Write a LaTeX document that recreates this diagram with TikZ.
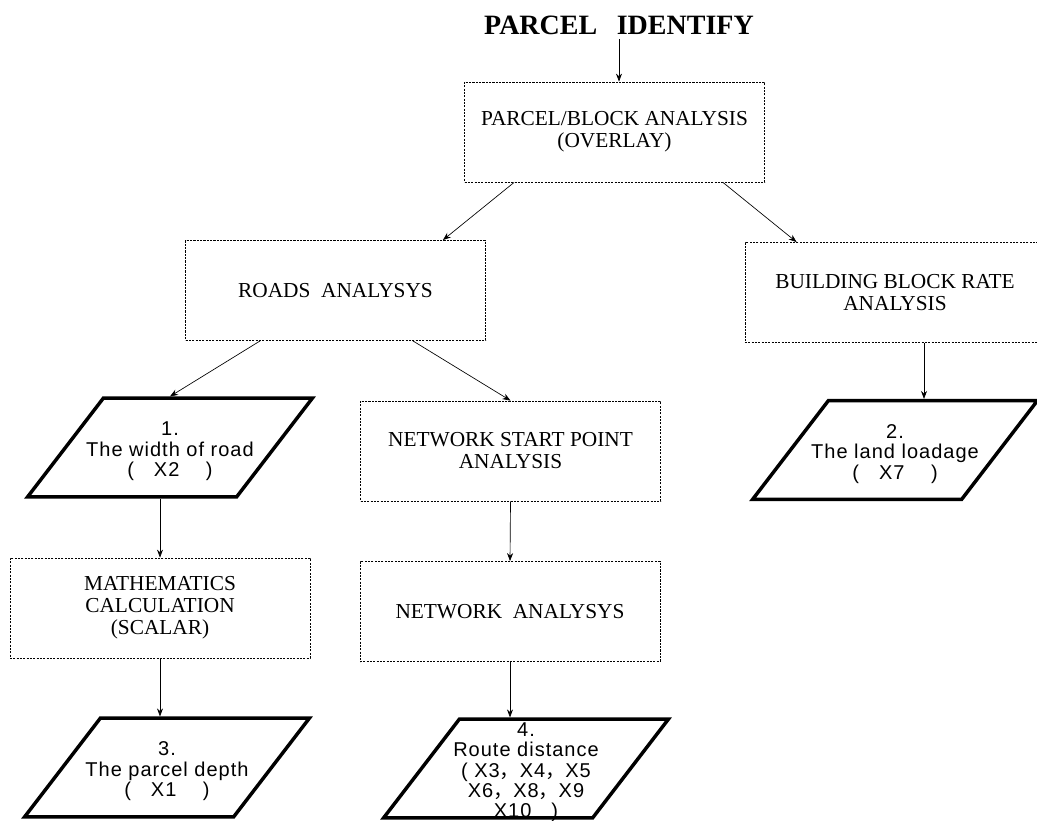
\documentclass[tikz,border=0pt]{standalone}
\usepackage{fontspec}
\setmainfont{Liberation Serif}
\newfontfamily\labelfont{Liberation Sans}[LetterSpace=5]
\newfontfamily\cjk{Noto Sans CJK SC}
\usetikzlibrary{positioning,arrows.meta,shapes.geometric,calc}

\tikzset{
  stepbox/.style={draw,dash pattern=on 1.6pt off 0.9pt,line width=0.6pt,
    minimum width=225pt,minimum height=75pt,inner sep=0pt,align=center,
    font=\fontsize{16}{16.5}\selectfont},
  outbox/.style={draw,line width=2.6pt,trapezium,trapezium left angle=52.5,
    trapezium right angle=127.5,inner xsep=50pt,inner ysep=0pt,
    text height=37pt,text depth=37pt,
    font=\labelfont\fontsize{15}{15}\selectfont},
  flow/.style={-{Stealth[length=6pt,width=4.5pt]},line width=0.5pt}
}
% text of an output box, allowed to run over the slanted sides
\newcommand{\outtext}[1]{\makebox[0pt]{\raisebox{-7pt}{\begin{tabular}{@{}c@{}}#1\end{tabular}}}}
\newcommand{\fwc}{{\cjk ，}}

\begin{document}
\begin{tikzpicture}[x=0.75pt,y=-0.75pt]
  \useasboundingbox (0,0) rectangle (1037,820);
  % heading
  \node[font=\bfseries\fontsize{21}{21}\selectfont] (title) at (619,25) {PARCEL\hspace{.7em}IDENTIFY};
  % analysis steps
  \node[stepbox] (overlay) at (614.5,132) {PARCEL/BLOCK ANALYSIS\\(OVERLAY)};
  \node[stepbox] (roads) at (335.5,290.5) {ROADS\ \ ANALYSYS};
  \node[stepbox] (bldg) at (895,292.5) {BUILDING BLOCK RATE\\ANALYSIS};
  \node[stepbox] (start) at (510.5,451) {NETWORK START POINT\\ANALYSIS};
  \node[stepbox] (net) at (510,611.5) {NETWORK\ \ ANALYSYS};
  \node[stepbox] (math) at (160,608) {MATHEMATICS\\CALCULATION\\(SCALAR)};
  % resulting variables
  \node[outbox] (width) at (170,447.5) {\outtext{1.\\The width of road\\(\quad X2\quad\ )}};
  \node[outbox] (load) at (895,450) {\outtext{2.\\The land loadage\\(\quad X7\quad\ )}};
  \node[outbox] (depth) at (167,767.5) {\outtext{3.\\The parcel depth\\(\quad X1\quad\ )}};
  \node[outbox] (route) at (526,768.5) {\outtext{4.\\Route distance\\( X3\fwc X4\fwc X5\\X6\fwc X8\fwc X9\\X10\quad)}};

  \draw[flow] (title.south) -- (title.south |- overlay.north);
  \draw[flow] ($(overlay.south west)+(50,0)$) -- ($(roads.north east)+(-43,0)$);
  \draw[flow] ($(overlay.south east)+(-42,0)$) -- ($(bldg.north west)+(52,0)$);
  \draw[flow] ($(roads.south west)+(75,0)$) -- (width.north);
  \draw[flow] ($(roads.south east)+(-73,0)$) -- (start.north);
  \draw[flow] (width.south -| math.north) -- (math.north);
  \draw[flow] (math.south) -- (math.south |- depth.north);
  \draw[flow] (start.south) -- (net.north);
  \draw[flow] (net.south) -- (net.south |- route.north);
  \coordinate (bldgout) at ($(bldg.south)+(29,0)$);
  \draw[flow] (bldgout) -- (bldgout |- load.north);
\end{tikzpicture}
\end{document}
